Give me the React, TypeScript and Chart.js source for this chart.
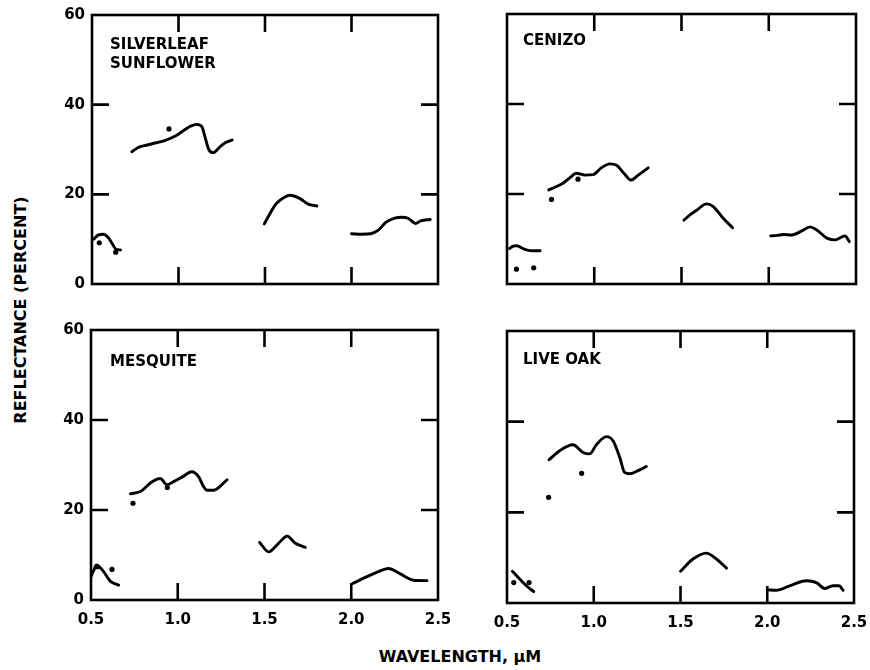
import React, { useEffect, useRef } from "react";
import { Chart, registerables } from "chart.js";

Chart.register(...registerables);

// ---- Axes ----
const xTickValues = [0.5, 1.0, 1.5, 2.0, 2.5];
const yTickValues = [0, 20, 40, 60];

// ---- Silverleaf sunflower ----
const sunflowerWl = [
  [0.51, 0.535, 0.565, 0.595, 0.62, 0.64, 0.665],
  [0.73, 0.77, 0.82, 0.87, 0.92, 0.99, 1.04, 1.07, 1.105, 1.135, 1.155, 1.175, 1.2, 1.24, 1.27, 1.31],
  [1.496, 1.53, 1.567, 1.61, 1.645, 1.7, 1.75, 1.8],
  [2.0, 2.06, 2.11, 2.155, 2.2, 2.25, 2.29, 2.33, 2.37, 2.4, 2.455],
];
const sunflowerRefl = [
  [10.0, 10.9, 11.1, 10.3, 8.8, 7.7, 7.6],
  [29.5, 30.5, 31.0, 31.5, 32.0, 33.2, 34.5, 35.2, 35.6, 35.1, 32.5, 30.0, 29.3, 30.6, 31.5, 32.1],
  [13.4, 15.8, 18.0, 19.3, 19.8, 19.1, 17.8, 17.4],
  [11.2, 11.1, 11.2, 12.0, 13.8, 14.7, 14.9, 14.6, 13.5, 14.1, 14.4],
];
const sunflowerDotWl = [0.542, 0.637, 0.945];
const sunflowerDotRefl = [9.2, 7.1, 34.6];

// ---- Cenizo ----
const cenizoWl = [
  [0.515, 0.535, 0.557, 0.585, 0.611, 0.65, 0.69],
  [0.739, 0.78, 0.821, 0.86, 0.898, 0.946, 0.993, 1.04, 1.089, 1.128, 1.17, 1.21, 1.252, 1.309],
  [1.514, 1.55, 1.587, 1.644, 1.682, 1.739, 1.793],
  [2.011, 2.05, 2.084, 2.132, 2.19, 2.237, 2.275, 2.333, 2.38, 2.437, 2.462],
];
const cenizoRefl = [
  [7.9, 8.4, 8.5, 8.0, 7.6, 7.4, 7.4],
  [20.9, 21.6, 22.4, 23.6, 24.6, 24.2, 24.3, 25.8, 26.7, 26.4, 24.6, 23.1, 24.2, 25.8],
  [14.2, 15.4, 16.4, 17.8, 17.2, 14.6, 12.5],
  [10.7, 10.8, 11.0, 10.9, 11.8, 12.7, 12.0, 10.2, 9.8, 10.7, 9.4],
];
const cenizoDotWl = [0.554, 0.653, 0.755, 0.907];
const cenizoDotRefl = [3.3, 3.6, 18.8, 23.3];

// ---- Mesquite ----
const mesquiteWl = [
  [0.5, 0.515, 0.531, 0.55, 0.573, 0.611, 0.659],
  [0.727, 0.784, 0.852, 0.899, 0.938, 0.976, 1.024, 1.082, 1.12, 1.149, 1.169, 1.207, 1.284],
  [1.472, 1.524, 1.581, 1.63, 1.678, 1.735],
  [2.01, 2.091, 2.15, 2.215, 2.283, 2.359, 2.437],
];
const mesquiteRefl = [
  [5.2, 6.5, 7.8, 7.3, 6.3, 4.2, 3.3],
  [23.6, 24.1, 26.3, 27.0, 25.6, 26.3, 27.3, 28.5, 27.4, 25.2, 24.4, 24.4, 26.7],
  [12.8, 10.7, 12.6, 14.2, 12.6, 11.7],
  [3.7, 5.2, 6.2, 7.0, 5.8, 4.4, 4.3],
];
const mesquiteDotWl = [0.535, 0.621, 0.742, 0.94];
const mesquiteDotRefl = [7.4, 6.8, 21.5, 25.0];

// ---- Live oak ----
const liveOakWl = [
  [0.531, 0.573, 0.612, 0.654],
  [0.742, 0.804, 0.88, 0.938, 0.977, 1.015, 1.073, 1.111, 1.15, 1.178, 1.207, 1.255, 1.303],
  [1.5, 1.572, 1.649, 1.707, 1.765],
  [2.0, 2.053, 2.129, 2.226, 2.283, 2.331, 2.379, 2.414, 2.437],
];
const liveOakRefl = [
  [7.0, 5.3, 3.8, 2.5],
  [31.6, 33.6, 34.9, 33.2, 32.9, 34.9, 36.7, 35.8, 32.1, 28.8, 28.5, 29.2, 30.1],
  [7.0, 9.7, 11.0, 9.7, 7.7],
  [2.9, 2.8, 3.8, 4.9, 4.5, 3.2, 3.8, 3.8, 2.8],
];
const liveOakDotWl = [0.539, 0.627, 0.74, 0.93];
const liveOakDotRefl = [4.5, 4.5, 23.3, 28.6];

const FONT_FAMILY = "'DejaVu Sans', 'Liberation Sans', sans-serif";
const Y_AXIS_W = 40;
const X_AXIS_H = 34;
const PAD_TOP = 20;
const PAD_RIGHT = 26;

type PanelProps = {
  label: string[];
  wl: number[][];
  refl: number[][];
  dotWl: number[];
  dotRefl: number[];
  areaLeft: number;
  areaTop: number;
  areaWidth: number;
  areaHeight: number;
  showX: boolean;
  showY: boolean;
  labelDx: number;
  labelDy: number;
};

const framePlugin = {
  id: "frameAndTicks",
  afterDatasetsDraw(chart: any, _args: any, opts: any) {
    const { ctx, chartArea, scales } = chart;
    const { left, right, top, bottom } = chartArea;
    ctx.save();
    ctx.strokeStyle = "#000";
    ctx.lineWidth = 2.6;
    ctx.lineJoin = "miter";
    ctx.strokeRect(left, top, right - left, bottom - top);
    const len = 17;
    ctx.beginPath();
    scales.x.ticks.forEach((t: any) => {
      if (t.value <= scales.x.min || t.value >= scales.x.max) return;
      const px = scales.x.getPixelForValue(t.value);
      ctx.moveTo(px, top);
      ctx.lineTo(px, top + len);
      ctx.moveTo(px, bottom);
      ctx.lineTo(px, bottom - len);
    });
    scales.y.ticks.forEach((t: any) => {
      if (t.value <= scales.y.min || t.value >= scales.y.max) return;
      const py = scales.y.getPixelForValue(t.value);
      ctx.moveTo(left, py);
      ctx.lineTo(left + len, py);
      ctx.moveTo(right, py);
      ctx.lineTo(right - len, py);
    });
    ctx.stroke();
    // panel label
    ctx.fillStyle = "#000";
    ctx.font = `bold 15px ${FONT_FAMILY}`;
    ctx.textAlign = "left";
    ctx.textBaseline = "alphabetic";
    (opts.label as string[]).forEach((line: string, i: number) => {
      ctx.fillText(line, left + opts.dx, top + opts.dy + 11 + i * 18.5);
    });
    ctx.restore();
  },
};

function Panel(p: PanelProps) {
  const ref = useRef<HTMLCanvasElement | null>(null);
  const cw = p.areaWidth + Y_AXIS_W + PAD_RIGHT;
  const ch = p.areaHeight + PAD_TOP + X_AXIS_H;

  useEffect(() => {
    if (!ref.current) return;
    const lineSets = p.wl.map((xs, si) => ({
      type: "line" as const,
      data: xs.map((x, i) => ({ x, y: p.refl[si][i] })),
      borderColor: "#000",
      borderWidth: 2.9,
      borderCapStyle: "round" as const,
      borderJoinStyle: "round" as const,
      pointRadius: 0,
      fill: false,
      cubicInterpolationMode: "monotone" as const,
      tension: 0.4,
    }));
    const dotSet = {
      type: "scatter" as const,
      data: p.dotWl.map((x, i) => ({ x, y: p.dotRefl[i] })),
      backgroundColor: "#000",
      borderWidth: 0,
      pointRadius: 2.6,
    };
    const tickFont = { family: FONT_FAMILY, size: 15, weight: "bold" as const };
    const chart = new Chart(ref.current, {
      type: "line",
      data: { datasets: [...lineSets, dotSet] as any },
      options: {
        responsive: false,
        maintainAspectRatio: false,
        animation: false,
        events: [],
        layout: { padding: { top: PAD_TOP, right: PAD_RIGHT, left: 0, bottom: 0 } },
        plugins: {
          legend: { display: false },
          tooltip: { enabled: false },
          frameAndTicks: { label: p.label, dx: p.labelDx, dy: p.labelDy },
        } as any,
        scales: {
          x: {
            type: "linear",
            min: 0.5,
            max: 2.5,
            afterBuildTicks: (s: any) => {
              s.ticks = xTickValues.map((v) => ({ value: v }));
            },
            afterFit: (s: any) => {
              s.height = X_AXIS_H;
            },
            ticks: {
              display: p.showX,
              color: "#000",
              font: tickFont,
              padding: 11,
              maxRotation: 0,
              autoSkip: false,
              callback: (v: any) => Number(v).toFixed(1),
            },
            grid: { display: false, drawTicks: false },
            border: { display: false },
          },
          y: {
            type: "linear",
            min: 0,
            max: 60,
            afterBuildTicks: (s: any) => {
              s.ticks = yTickValues.map((v) => ({ value: v }));
            },
            afterFit: (s: any) => {
              s.width = Y_AXIS_W;
            },
            ticks: {
              display: p.showY,
              color: "#000",
              font: tickFont,
              padding: 7,
              autoSkip: false,
              callback: (v: any) => String(v),
            },
            grid: { display: false, drawTicks: false },
            border: { display: false },
          },
        },
      },
      plugins: [framePlugin],
    });
    return () => chart.destroy();
  }, []);

  return (
    <canvas
      ref={ref}
      width={cw}
      height={ch}
      style={{
        position: "absolute",
        left: p.areaLeft - Y_AXIS_W,
        top: p.areaTop - PAD_TOP,
        width: cw,
        height: ch,
      }}
    />
  );
}

export default function App() {
  return (
    <div
      style={{
        position: "absolute",
        left: 0,
        top: 0,
        width: 870,
        height: 670,
        overflow: "hidden",
        background: "#fff",
        fontFamily: FONT_FAMILY,
      }}
    >
      <Panel
        label={["SILVERLEAF", "SUNFLOWER"]}
        wl={sunflowerWl}
        refl={sunflowerRefl}
        dotWl={sunflowerDotWl}
        dotRefl={sunflowerDotRefl}
        areaLeft={92}
        areaTop={15}
        areaWidth={346}
        areaHeight={269}
        showX={false}
        showY={true}
        labelDx={18}
        labelDy={23}
      />
      <Panel
        label={["CENIZO"]}
        wl={cenizoWl}
        refl={cenizoRefl}
        dotWl={cenizoDotWl}
        dotRefl={cenizoDotRefl}
        areaLeft={507}
        areaTop={14}
        areaWidth={349}
        areaHeight={270}
        showX={false}
        showY={false}
        labelDx={16}
        labelDy={20}
      />
      <Panel
        label={["MESQUITE"]}
        wl={mesquiteWl}
        refl={mesquiteRefl}
        dotWl={mesquiteDotWl}
        dotRefl={mesquiteDotRefl}
        areaLeft={91}
        areaTop={330}
        areaWidth={347}
        areaHeight={270}
        showX={true}
        showY={true}
        labelDx={19}
        labelDy={25}
      />
      <Panel
        label={["LIVE OAK"]}
        wl={liveOakWl}
        refl={liveOakRefl}
        dotWl={liveOakDotWl}
        dotRefl={liveOakDotRefl}
        areaLeft={507}
        areaTop={331}
        areaWidth={347}
        areaHeight={272}
        showX={true}
        showY={false}
        labelDx={16}
        labelDy={22}
      />
      <div
        style={{
          position: "absolute",
          left: 21,
          top: 310,
          transform: "translate(-50%, -50%) rotate(-90deg)",
          fontWeight: "bold",
          fontSize: 16,
          lineHeight: "16px",
          whiteSpace: "nowrap",
          color: "#000",
        }}
      >
        REFLECTANCE (PERCENT)
      </div>
      <div
        style={{
          position: "absolute",
          left: 460,
          top: 657,
          transform: "translate(-50%, -50%)",
          fontWeight: "bold",
          fontSize: 16,
          lineHeight: "16px",
          whiteSpace: "nowrap",
          color: "#000",
        }}
      >
        WAVELENGTH, µM
      </div>
    </div>
  );
}
